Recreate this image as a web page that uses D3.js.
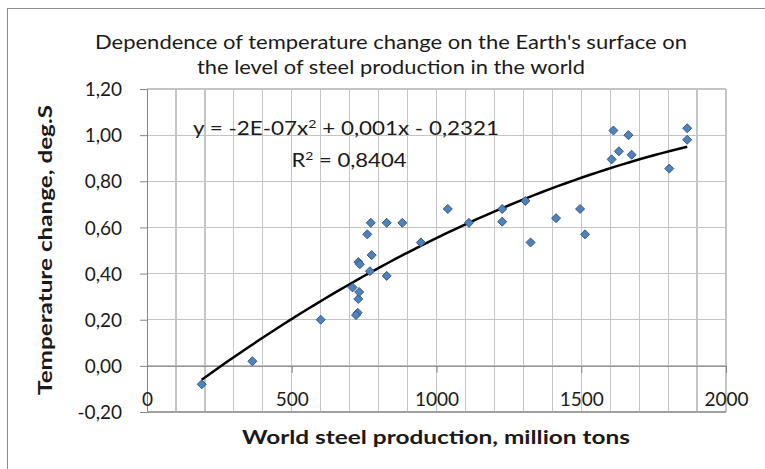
<!DOCTYPE html>
<html>
<head>
<meta charset="utf-8">
<script src="https://cdn.jsdelivr.net/npm/d3@7"></script>
<style>
  html, body { margin: 0; padding: 0; background: #fff; }
  svg { display: block; }
  text { font-family: Lato, "Open Sans", "Liberation Sans", sans-serif; fill: #1a1a1a; }
</style>
</head>
<body>
<svg id="chart" width="765" height="469"></svg>
<script>
// ---- data ----
const steelProduction = [189, 364, 600, 710, 728, 722, 730, 733, 730, 735, 770, 776, 828,
  761, 773, 828, 882, 946, 1039, 1112, 1227, 1227, 1307, 1325, 1413, 1496, 1513,
  1605, 1611, 1630, 1663, 1674, 1804, 1866, 1866];
const tempChange = [-0.08, 0.02, 0.20, 0.34, 0.23, 0.22, 0.29, 0.32, 0.45, 0.44, 0.41, 0.48, 0.39,
  0.57, 0.62, 0.62, 0.62, 0.535, 0.68, 0.62, 0.68, 0.625, 0.715, 0.535, 0.64, 0.68, 0.57,
  0.895, 1.02, 0.93, 1.00, 0.915, 0.855, 1.03, 0.98];
const xTicks = [0, 500, 1000, 1500, 2000];
const yTicks = [-0.2, 0, 0.2, 0.4, 0.6, 0.8, 1.0, 1.2];
const titleLines = ["Dependence of temperature change on the Earth's surface on",
                    "the level of steel production in the world"];
const xTitle = "World steel production, million tons";
const yTitle = "Temperature change, deg.S";
const eqText = ["y = -2E-07x", "2", " + 0,001x - 0,2321"];
const r2Text = ["R", "2", " = 0,8404"];

// ---- chart ----
const svg = d3.select("#chart");
const x = d3.scaleLinear().domain([0, 2000]).range([147, 726]);
const y = d3.scaleLinear().domain([-0.2, 1.2]).range([412, 89]);

// outer frame
svg.append("rect").attr("x", 7.5).attr("y", 8.5).attr("width", 800).attr("height", 500)
  .attr("fill", "#fff").attr("stroke", "#8c8c8c").attr("stroke-width", 1);

// gridlines
const grid = svg.append("g").attr("stroke", "#c4c4c4").attr("stroke-width", 1.2).attr("shape-rendering", "crispEdges");
grid.selectAll("line.v").data(d3.range(100, 2001, 100)).join("line")
  .attr("x1", d => x(d)).attr("x2", d => x(d)).attr("y1", y(1.2)).attr("y2", y(-0.2));
grid.selectAll("line.h").data(yTicks).join("line")
  .attr("x1", x(0)).attr("x2", x(2000)).attr("y1", d => y(d)).attr("y2", d => y(d));

// y axis
const yAxis = d3.axisLeft(y).tickValues(yTicks).tickSize(7).tickPadding(18)
  .tickFormat(d => d3.format(".2f")(d).replace(".", ",").replace("−", "-"));
const gy = svg.append("g").attr("transform", `translate(${x(0)},0)`).call(yAxis);
gy.select(".domain").attr("stroke", "#868686");
gy.selectAll(".tick line").attr("stroke", "#868686");
gy.selectAll(".tick text").attr("font-size", 19).attr("fill", "#1a1a1a").attr("dy", "0.35em")
  .attr("font-family", "Lato, sans-serif");

// x axis crossing at y=0
const xAxis = d3.axisBottom(x).tickValues(xTicks).tickSize(7).tickPadding(20).tickFormat(d3.format("d"));
const gx = svg.append("g").attr("transform", `translate(0,${y(0)})`).call(xAxis);
gx.select(".domain").attr("stroke", "#868686");
gx.selectAll(".tick line").attr("stroke", "#868686");
gx.selectAll(".tick text").attr("font-size", 19).attr("fill", "#1a1a1a").attr("font-family", "Lato, sans-serif");

// bottom plot edge
svg.append("line").attr("x1", x(0)).attr("x2", x(2000)).attr("y1", y(-0.2)).attr("y2", y(-0.2))
  .attr("stroke", "#a0a0a0").attr("stroke-width", 1.2).attr("shape-rendering", "crispEdges");

// quadratic least-squares trend line
function quadFit(xs, ys) {
  const S = [0,0,0,0,0], T = [0,0,0];
  xs.forEach((xv, i) => {
    for (let k = 0; k < 5; k++) S[k] += Math.pow(xv, k);
    for (let k = 0; k < 3; k++) T[k] += ys[i] * Math.pow(xv, k);
  });
  const A = [[S[0],S[1],S[2],T[0]],[S[1],S[2],S[3],T[1]],[S[2],S[3],S[4],T[2]]];
  for (let i = 0; i < 3; i++) {
    let p = i;
    for (let r = i+1; r < 3; r++) if (Math.abs(A[r][i]) > Math.abs(A[p][i])) p = r;
    [A[i], A[p]] = [A[p], A[i]];
    for (let r = 0; r < 3; r++) if (r !== i) {
      const f = A[r][i] / A[i][i];
      for (let c = i; c < 4; c++) A[r][c] -= f * A[i][c];
    }
  }
  return [A[0][3]/A[0][0], A[1][3]/A[1][1], A[2][3]/A[2][2]];
}
const coef = quadFit(steelProduction, tempChange);
const xMin = d3.min(steelProduction), xMax = d3.max(steelProduction);
const trendX = d3.range(0, 61).map(i => xMin + (xMax - xMin) * i / 60);
svg.append("path")
  .datum(trendX)
  .attr("fill", "none").attr("stroke", "#000").attr("stroke-width", 2.5)
  .attr("d", d3.line().x(d => x(d)).y(d => y(coef[0] + coef[1]*d + coef[2]*d*d)));

// points (diamonds)
const diamond = d3.symbol().type(d3.symbolDiamond2).size(52);
svg.append("g").selectAll("path").data(steelProduction).join("path")
  .attr("transform", (d, i) => `translate(${x(d)},${y(tempChange[i])})`)
  .attr("d", diamond)
  .attr("fill", "#4f81bd").attr("stroke", "#2f4f76").attr("stroke-width", 0.9);

// equation labels
function supLabel(parts, cx, cy, width) {
  const t = svg.append("text").attr("x", cx).attr("y", cy).attr("font-size", 19)
    .attr("text-anchor", "middle").attr("textLength", width).attr("lengthAdjust", "spacingAndGlyphs");
  t.append("tspan").text(parts[0]);
  t.append("tspan").attr("dy", -7).attr("font-size", 12).text(parts[1]);
  t.append("tspan").attr("dy", 7).text(parts[2]);
}
supLabel(eqText, 346, 135, 306);
supLabel(r2Text, 349, 167, 115);

// title
svg.append("g").selectAll("text").data(titleLines).join("text")
  .attr("x", 391).attr("y", (d, i) => 49 + i * 25)
  .attr("text-anchor", "middle").attr("font-size", 19)
  .attr("textLength", (d, i) => i === 0 ? 592 : 388).attr("lengthAdjust", "spacingAndGlyphs")
  .text(d => d);

// axis titles
svg.append("text").attr("x", 436).attr("y", 444).attr("text-anchor", "middle")
  .attr("font-size", 19).attr("font-weight", "bold")
  .attr("textLength", 388).attr("lengthAdjust", "spacingAndGlyphs").text(xTitle);
svg.append("text").attr("transform", "translate(52,250) rotate(-90)").attr("text-anchor", "middle")
  .attr("font-size", 19).attr("font-weight", "bold")
  .attr("textLength", 290).attr("lengthAdjust", "spacingAndGlyphs").text(yTitle);
</script>
</body>
</html>
